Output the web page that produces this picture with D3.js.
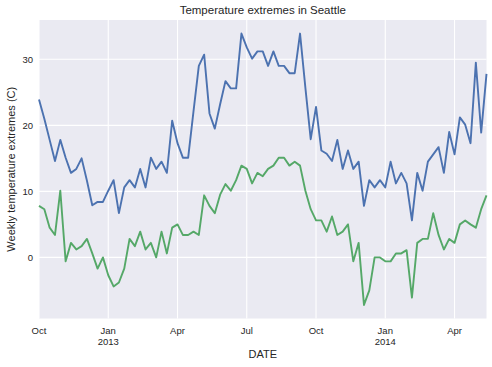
<!DOCTYPE html>
<html>
<head>
<meta charset="utf-8">
<script src="https://cdn.jsdelivr.net/npm/d3@7"></script>
<style>
  html, body { margin: 0; padding: 0; background: #ffffff; }
  svg { display: block; font-family: "Liberation Sans", Arial, sans-serif; }
</style>
</head>
<body>
<svg id="chart" width="492" height="367"></svg>
<script>
// Weekly maximum temperature (C), weeks starting 2012-10-01
const tmax = [23.9, 21.0, 17.8, 14.6, 17.8, 15.1, 12.8, 13.4, 15.0, 11.6,
  7.9, 8.4, 8.4, 10.1, 11.7, 6.7, 10.6, 11.7, 10.6, 13.4,
  10.6, 15.1, 13.4, 14.5, 12.8, 20.7, 17.3, 15.1, 15.1, 22.1,
  29.0, 30.7, 21.8, 19.5, 23.2, 26.7, 25.6, 25.6, 33.9, 31.8,
  30.1, 31.2, 31.2, 29.0, 31.2, 29.0, 29.0, 27.9, 27.9, 33.9,
  25.7, 17.9, 22.8, 16.2, 15.7, 14.6, 17.8, 13.4, 16.2, 13.4,
  14.5, 7.8, 11.7, 10.6, 11.7, 10.6, 14.5, 11.2, 12.8, 11.2,
  5.6, 12.8, 10.1, 14.5, 15.6, 16.7, 12.8, 19.0, 15.6, 21.2,
  20.1, 17.3, 29.5, 18.9, 27.8];
// Weekly minimum temperature (C)
const tmin = [7.8, 7.3, 4.5, 3.4, 10.1, -0.6, 2.2, 1.2, 1.7, 2.8,
  0.6, -1.7, 0.0, -2.7, -4.4, -3.8, -1.7, 2.8, 1.7, 3.9,
  1.2, 2.2, 0.0, 3.9, 0.6, 4.5, 5.0, 3.4, 3.4, 3.9,
  3.4, 9.4, 7.8, 6.7, 9.5, 11.1, 10.1, 11.7, 13.9, 13.4,
  11.2, 12.8, 12.3, 13.4, 13.9, 15.1, 15.1, 13.9, 14.5, 13.9,
  10.1, 7.3, 5.6, 5.6, 3.9, 6.2, 3.4, 3.9, 5.0, -0.6,
  2.2, -7.2, -5.0, 0.0, 0.0, -0.6, -0.6, 0.6, 0.6, 1.1,
  -6.1, 2.2, 2.8, 2.8, 6.7, 3.4, 1.2, 2.8, 2.2, 5.0,
  5.6, 5.0, 4.5, 7.3, 9.4];
const startDate = "2012-10-01";
const xTickDates = ["2012-10-01", "2013-01-01", "2013-04-01", "2013-07-01", "2013-10-01", "2014-01-01", "2014-04-01"];
const xTickLabels = [["Oct"], ["Jan", "2013"], ["Apr"], ["Jul"], ["Oct"], ["Jan", "2014"], ["Apr"]];
const yTicks = [0, 10, 20, 30];
const title = "Temperature extremes in Seattle";
const xLabel = "DATE";
const yLabel = "Weekly temperature extremes (C)";

const parse = d3.utcParse("%Y-%m-%d");
const t0 = parse(startDate);
const dates = tmax.map((_, i) => d3.utcDay.offset(t0, 7 * i));
const seriesMax = tmax.map((v, i) => ({ date: dates[i], v }));
const seriesMin = tmin.map((v, i) => ({ date: dates[i], v }));

const svg = d3.select("#chart");
const L = 39, R = 486.5, T = 20, B = 318.5;
const textColor = "#262626";

const x = d3.scaleUtc().domain([dates[0], dates[dates.length - 1]]).range([L, R]);
const allV = tmax.concat(tmin);
const vmin = d3.min(allV), vmax = d3.max(allV), pad = (vmax - vmin) * 0.05;
const y = d3.scaleLinear().domain([vmin - pad, vmax + pad]).range([B, T]);

// background
svg.append("rect").attr("x", L).attr("y", T).attr("width", R - L).attr("height", B - T).attr("fill", "#EAEAF2");

// tick positions snapped to the week (Monday) containing the month start
const tickPos = xTickDates.map(s => d3.utcMonday.floor(parse(s)));

// grid
const g = svg.append("g");
g.selectAll(".vg").data(tickPos).enter().append("line")
  .attr("x1", d => x(d)).attr("x2", d => x(d)).attr("y1", T).attr("y2", B)
  .attr("stroke", "#ffffff").attr("stroke-width", 1.1);
g.selectAll(".hg").data(yTicks).enter().append("line")
  .attr("x1", L).attr("x2", R).attr("y1", d => y(d)).attr("y2", d => y(d))
  .attr("stroke", "#ffffff").attr("stroke-width", 1.1);

// lines
const line = d3.line().x(d => x(d.date)).y(d => y(d.v));
svg.append("path").datum(seriesMax).attr("d", line).attr("fill", "none")
  .attr("stroke", "#4C72B0").attr("stroke-width", 1.9).attr("stroke-linejoin", "round");
svg.append("path").datum(seriesMin).attr("d", line).attr("fill", "none")
  .attr("stroke", "#55A868").attr("stroke-width", 1.9).attr("stroke-linejoin", "round");

// y tick labels
svg.selectAll(".yt").data(yTicks).enter().append("text")
  .attr("x", L - 6).attr("y", d => y(d)).attr("dy", "0.35em")
  .attr("text-anchor", "end").attr("font-size", 9.5).attr("fill", textColor)
  .text(d => d);

// x tick labels
tickPos.forEach((d, i) => {
  const t = svg.append("text").attr("x", x(d)).attr("y", 334)
    .attr("text-anchor", "middle").attr("font-size", 9.5).attr("fill", textColor);
  xTickLabels[i].forEach((s, j) => {
    t.append("tspan").attr("x", x(d)).attr("dy", j === 0 ? 0 : 11).text(s);
  });
});

// axis labels and title
svg.append("text").attr("x", (L + R) / 2).attr("y", 358).attr("text-anchor", "middle")
  .attr("font-size", 11).attr("fill", textColor).text(xLabel);
svg.append("text").attr("transform", `translate(15,${(T + B) / 2}) rotate(-90)`)
  .attr("text-anchor", "middle").attr("font-size", 11).attr("fill", textColor).text(yLabel);
svg.append("text").attr("x", (L + R) / 2).attr("y", 14).attr("text-anchor", "middle")
  .attr("font-size", 11.5).attr("fill", textColor).text(title);
</script>
</body>
</html>
